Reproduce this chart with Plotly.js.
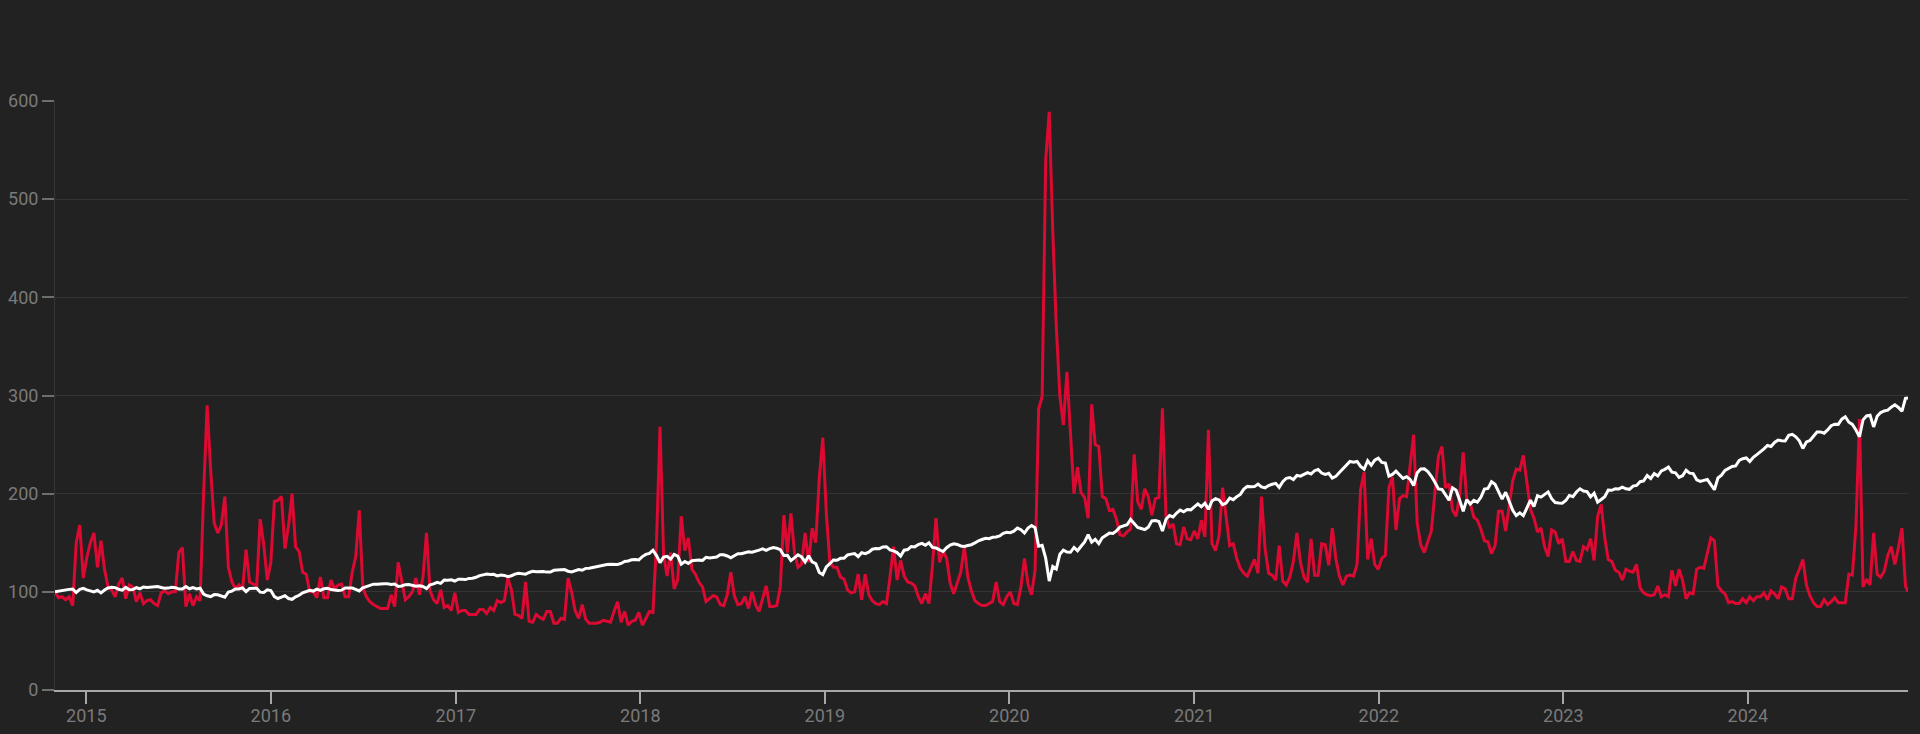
<!DOCTYPE html>
<html>
<head>
<meta charset="utf-8">
<script src="https://cdn.plot.ly/plotly-3.0.1.min.js"></script>
<style>
  html, body { margin: 0; padding: 0; background: #222222; }
  #chart { width: 1920px; height: 734px; }
</style>
</head>
<body>
<div id="chart"></div>
<script>
// Weekly readings (Fridays), both series indexed to 100 at 2014-10-31.
// First Friday of each year's block:
const weekStarts = ['2014-10-31','2015-01-02','2016-01-01','2017-01-06','2018-01-05','2019-01-04','2020-01-03','2021-01-01','2022-01-07','2023-01-06','2024-01-05'];

// Red series (volatility index, rebased)
const vol2014 = [100,94,95,92,95,86,150,168,114];
const vol2015 = [
  135,150,160,125,152,
  123,105,102,95,
  108,114,93,107,
  105,90,99,88,
  91,92,88,86,99,
  101,98,100,100,
  140,145,85,98,86,
  95,91,200,290,
  224,170,160,168,
  197,125,110,103,107,
  102,143,110,108,
  106,174,148,112];
const vol2016 = [
  130,192,193,197,144,
  167,200,146,141,
  120,118,100,100,
  94,115,94,94,112,
  103,107,108,95,
  95,120,136,183,
  104,95,90,87,85,
  83,83,83,97,
  85,130,112,92,95,
  100,114,97,115,
  160,101,92,88,
  102,84,86,81,99];
const vol2017 = [
  79,81,81,77,
  77,77,82,82,
  78,84,81,91,89,
  91,114,102,77,
  76,73,110,70,
  69,77,74,72,80,
  80,68,68,73,
  72,114,100,81,
  73,87,72,68,68,
  68,69,71,70,
  69,80,90,69,
  80,66,70,71,79];
const vol2018 = [
  66,73,80,79,
  150,268,138,116,
  140,103,112,177,142,
  155,123,118,110,
  105,90,93,96,
  95,87,86,97,120,
  96,87,88,95,
  83,100,87,80,92,
  106,85,85,86,
  105,178,140,180,
  140,125,128,160,130,
  165,150,215,257];
const vol2019 = [
  180,130,125,125,
  115,113,102,99,
  100,118,92,118,97,
  91,88,87,90,
  88,115,146,112,132,
  116,110,109,106,
  95,88,98,88,
  127,175,130,142,134,
  109,98,109,120,
  146,115,101,91,
  88,86,86,88,90,
  110,90,87,95];
const vol2020 = [
  100,88,87,105,134,
  108,97,122,286,
  299,540,589,467,
  370,300,270,324,
  265,200,227,201,196,
  175,291,250,248,
  197,195,183,184,174,
  158,157,161,164,
  240,192,184,205,
  197,178,195,196,287,
  177,165,169,149,
  148,166,154,153];
const vol2021 = [
  162,154,173,156,265,
  149,142,157,206,
  176,147,149,134,
  124,119,116,124,133,
  119,197,144,119,
  117,112,147,111,
  107,115,131,160,130,
  115,110,154,117,
  117,149,148,127,
  165,134,116,107,116,
  117,116,128,204,
  222,133,154,128,123];
const vol2022 = [
  134,137,206,217,
  163,195,198,197,
  228,260,170,148,
  140,151,162,201,238,
  248,206,210,183,
  177,198,242,194,
  190,176,173,164,152,
  151,139,147,182,
  182,162,188,213,225,
  224,239,212,184,
  175,161,165,146,
  136,163,161,149,154];
const vol2023 = [
  131,131,141,132,
  131,146,143,154,
  132,177,189,155,133,
  131,122,120,112,
  123,121,120,128,
  104,99,97,96,97,
  106,95,97,95,
  122,106,123,112,
  93,99,98,123,125,
  124,138,155,152,
  106,101,98,89,
  90,88,88,93,89];
const vol2024 = [
  95,91,95,95,
  99,92,101,98,
  93,105,103,93,93,
  114,123,133,107,
  96,89,85,85,92,
  87,90,94,89,
  89,89,118,117,
  167,276,105,113,107,
  160,118,115,121,
  137,146,128,145,
  165,106];

// White series (stock index, rebased)
const spx2014 = [100.0,100.7,101.0,102.3,102.5,102.8,99.3,102.6,103.5];
const spx2015 = [
  102.0,101.3,100.0,101.6,98.9,
  101.8,103.9,104.6,104.3,
  102.6,101.7,104.5,102.1,
  102.4,104.2,103.1,104.9,
  104.5,104.9,105.2,105.4,104.4,
  103.7,103.8,104.6,104.2,
  102.9,102.9,105.4,103.1,104.3,
  103.0,103.7,97.7,96.0,
  95.2,97.2,97.0,95.7,
  94.5,99.8,100.7,102.8,103.0,
  104.0,100.2,103.5,103.6,
  103.7,99.7,99.4,102.1];
const spx2016 = [
  101.3,95.2,93.2,94.5,96.1,
  93.2,92.4,95.0,96.5,
  99.1,100.2,101.6,100.8,
  102.7,101.5,103.1,103.7,102.3,
  101.9,101.4,101.7,104.0,
  104.0,103.9,102.6,100.9,
  104.2,105.5,107.1,107.8,107.7,
  108.2,108.2,108.2,107.5,
  108.0,105.5,106.0,107.3,107.4,
  106.7,105.7,106.1,105.4,
  103.3,107.2,108.1,109.7,
  108.6,112.0,111.9,112.2,111.0];
const spx2017 = [
  112.8,112.7,112.5,113.7,
  113.8,114.8,116.5,117.3,
  118.1,117.6,117.8,116.2,117.1,
  116.7,115.4,116.4,118.1,
  118.9,118.5,118.0,119.7,
  120.9,120.5,120.6,120.8,120.1,
  120.2,121.9,122.5,122.5,
  122.7,121.0,120.2,121.1,
  122.7,122.0,123.9,124.0,124.8,
  126.3,126.5,127.6,127.9,
  128.2,127.9,127.8,128.9,
  130.9,131.4,132.6,133.0,132.5];
const spx2018 = [
  135.9,138.1,139.2,142.4,
  136.9,129.8,135.4,136.1,
  133.3,138.1,136.4,128.2,130.9,
  129.0,131.6,132.3,132.3,
  132.0,135.2,134.4,134.8,
  135.5,137.7,137.8,136.5,134.7,
  136.8,138.8,138.8,139.7,
  140.7,140.4,141.2,142.5,143.8,
  142.3,144.0,145.2,144.4,
  143.0,137.1,137.2,131.8,
  134.9,137.8,135.6,130.5,136.8,
  130.5,128.8,119.8,117.5];
const spx2019 = [
  125.5,128.6,132.4,132.1,
  134.1,134.2,137.6,138.4,
  139.0,135.9,139.8,138.8,140.4,
  143.4,144.1,144.0,145.7,
  146.0,142.8,141.7,140.0,136.4,
  142.4,143.1,146.2,145.8,
  148.2,149.4,147.5,150.0,
  145.3,144.6,143.2,141.1,145.0,
  147.6,149.0,148.3,146.7,
  146.3,147.2,148.0,149.8,
  152.0,153.3,154.6,154.1,155.6,
  155.9,157.0,159.6,160.6];
const spx2020 = [
  160.3,161.8,165.0,163.3,159.9,
  164.9,167.5,165.4,146.4,
  147.3,134.3,111.0,125.9,
  123.3,138.3,142.5,140.6,
  140.3,145.2,141.9,146.4,150.8,
  158.3,150.7,153.5,149.1,
  155.1,157.8,159.8,159.4,162.1,
  166.1,167.1,168.3,173.8,
  169.8,165.6,164.5,163.4,
  165.9,172.3,172.6,171.7,162.0,
  173.9,177.7,176.3,180.3,
  183.3,181.5,183.8,183.5];
const spx2021 = [
  186.1,189.5,186.7,190.3,184.0,
  192.6,194.9,193.6,188.9,
  190.4,195.4,193.9,197.0,
  199.2,204.6,207.4,207.1,207.2,
  209.8,206.8,205.9,208.3,
  209.6,210.5,206.4,212.1,
  215.7,216.5,214.4,218.6,217.8,
  219.9,221.4,220.1,223.4,
  224.7,221.0,219.7,220.8,
  215.9,217.6,221.6,225.2,228.2,
  232.8,232.1,232.8,227.7,
  224.9,233.5,228.9,234.2,236.2];
const spx2022 = [
  231.8,231.1,217.9,219.6,
  223.0,219.0,215.5,217.3,
  214.5,208.3,221.2,225.1,
  225.3,222.4,217.7,211.7,204.8,
  204.3,199.4,193.3,206.0,
  203.6,193.3,182.1,193.9,
  189.5,193.2,191.4,196.3,204.7,
  205.4,212.1,209.5,201.1,
  194.4,201.5,191.9,183.0,177.7,
  180.4,177.6,186.0,193.3,
  186.9,197.9,196.5,199.5,
  201.8,194.9,190.9,190.5,190.3];
const spx2023 = [
  193.0,198.2,196.9,201.7,
  205.0,202.7,202.1,196.7,
  200.5,191.4,194.1,196.8,203.6,
  203.4,205.1,204.8,206.6,
  205.0,204.4,207.7,208.4,
  212.2,213.0,218.5,215.5,220.5,
  218.0,223.2,224.8,227.1,
  221.9,221.2,216.6,218.3,
  223.8,220.9,220.5,214.1,212.5,
  213.5,214.5,209.3,204.0,
  216.0,218.8,223.7,225.9,
  227.7,228.2,233.8,235.6,236.4];
const spx2024 = [
  232.8,237.1,239.8,242.4,
  245.7,249.1,248.1,252.2,
  254.6,253.9,253.6,259.4,260.4,
  257.9,253.9,246.1,252.7,
  254.1,258.8,262.8,262.9,261.6,
  265.0,269.2,270.8,270.6,
  275.9,278.3,272.8,270.5,
  264.9,258.0,275.2,279.2,279.9,
  268.0,278.8,282.6,284.3,
  285.0,288.2,290.6,287.8,
  283.9,297.1];

// Last reading
const lastDate = '2024-11-13';
const lastVol = 100;
const lastSpx = 297.5;

const volBlocks = [vol2014,vol2015,vol2016,vol2017,vol2018,vol2019,vol2020,vol2021,vol2022,vol2023,vol2024];
const spxBlocks = [spx2014,spx2015,spx2016,spx2017,spx2018,spx2019,spx2020,spx2021,spx2022,spx2023,spx2024];

function weekly(start, n) {
  const out = [];
  const d0 = new Date(start + 'T00:00:00Z');
  for (let i = 0; i < n; i++) {
    const d = new Date(d0.getTime() + i * 7 * 86400000);
    out.push(d.toISOString().slice(0, 10));
  }
  return out;
}

const xs = [], volY = [], spxY = [];
weekStarts.forEach((s, k) => {
  const n = Math.min(volBlocks[k].length, spxBlocks[k].length);
  const dates = weekly(s, n);
  for (let i = 0; i < n; i++) {
    xs.push(dates[i]);
    volY.push(volBlocks[k][i]);
    spxY.push(spxBlocks[k][i]);
  }
});
xs.push(lastDate); volY.push(lastVol); spxY.push(lastSpx);

const traces = [
  { x: xs, y: volY, type: 'scatter', mode: 'lines', name: 'Volatility',
    line: { color: '#dc0a32', width: 3 }, hoverinfo: 'skip' },
  { x: xs, y: spxY, type: 'scatter', mode: 'lines', name: 'Index',
    line: { color: '#ffffff', width: 3 }, hoverinfo: 'skip' }
];

const tickFont = { family: 'Roboto, "Noto Sans", sans-serif', size: 18, color: '#7a7a7a' };

const layout = {
  width: 1920, height: 734,
  paper_bgcolor: '#222222', plot_bgcolor: '#222222',
  margin: { l: 55, r: 12, t: 101, b: 44 },
  showlegend: false,
  xaxis: {
    type: 'date',
    range: ['2014-10-31', lastDate],
    showgrid: false, zeroline: false,
    showline: true, linecolor: '#a8a8a8', linewidth: 2,
    ticks: 'outside', ticklen: 12, tickwidth: 2, tickcolor: '#a8a8a8',
    ticklabelstandoff: -4,
    dtick: 'M12', tick0: '2015-01-01', tickformat: '%Y',
    tickfont: tickFont
  },
  yaxis: {
    range: [0, 600],
    tickvals: [0, 100, 200, 300, 400, 500, 600],
    showgrid: true, gridcolor: '#353535', gridwidth: 1,
    zeroline: false,
    showline: true, linecolor: '#363636', linewidth: 1,
    ticks: 'outside', ticklen: 12, tickwidth: 2, tickcolor: '#6e6e6e',
    tickfont: tickFont
  }
};

Plotly.newPlot('chart', traces, layout, { displayModeBar: false, staticPlot: true });
</script>
</body>
</html>
